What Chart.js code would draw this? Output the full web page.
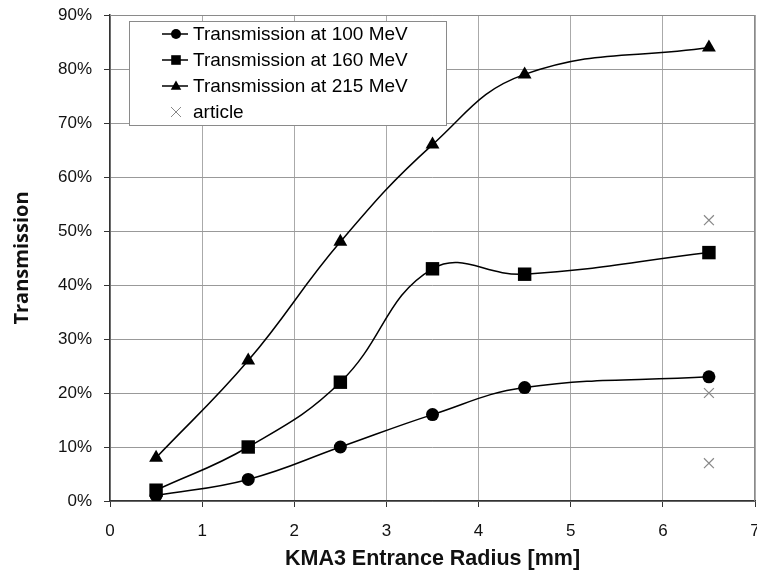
<!DOCTYPE html>
<html>
<head>
<meta charset="utf-8">
<script src="https://cdn.jsdelivr.net/npm/chart.js@4"></script>
<style>
html,body{margin:0;padding:0;background:#fff;}
#wrap{width:757px;height:576px;position:relative;}
</style>
</head>
<body>
<div id="wrap"><canvas id="c" width="757" height="576"></canvas></div>
<script>
// ---- data ----
const radii = [0.5, 1.5, 2.5, 3.5, 4.5, 6.5];
const trans100 = [1, 4, 10, 16, 21, 23];
const trans160 = [2, 10, 22, 43, 42, 46];
const trans215 = [8, 26, 48, 66, 79, 84];
const articleRadii = [6.5, 6.5, 6.5];
const articleValues = [52, 20, 7];
const seriesNames = ['Transmission at 100 MeV', 'Transmission at 160 MeV', 'Transmission at 215 MeV', 'article'];
const xTitle = 'KMA3 Entrance Radius [mm]';
const yTitle = 'Transmission';

const pts = (xs, ys) => xs.map((x, i) => ({x: x, y: ys[i]}));

function drawMarker(ctx, style, x, y, r, color, lw) {
  ctx.save();
  ctx.fillStyle = color; ctx.strokeStyle = color; ctx.lineWidth = lw || 1;
  ctx.beginPath();
  if (style === 'circle') { ctx.arc(x, y, r, 0, Math.PI * 2); ctx.fill(); }
  else if (style === 'rect') { ctx.rect(x - r, y - r, 2 * r, 2 * r); ctx.fill(); }
  else if (style === 'triangle') {
    ctx.moveTo(x, y - r * 1.1); ctx.lineTo(x + r * 1.05, y + r * 0.75); ctx.lineTo(x - r * 1.05, y + r * 0.75); ctx.closePath(); ctx.fill();
  } else if (style === 'crossRot') {
    ctx.moveTo(x - r, y - r); ctx.lineTo(x + r, y + r); ctx.moveTo(x + r, y - r); ctx.lineTo(x - r, y + r); ctx.stroke();
  }
  ctx.restore();
}

const frame = {
  id: 'frame',
  beforeDatasetsDraw(chart) {
    const {ctx, chartArea: a} = chart;
    ctx.save();
    ctx.strokeStyle = '#8a8a8a'; ctx.lineWidth = 1;
    ctx.beginPath();
    ctx.moveTo(a.left, a.top + 0.5); ctx.lineTo(a.right - 0.5, a.top + 0.5); ctx.lineTo(a.right - 0.5, a.bottom);
    ctx.stroke();
    ctx.restore();
  }
};

const legendBox = {
  id: 'legendBox',
  afterDraw(chart) {
    const ctx = chart.ctx;
    const L = 129, T = 21, R = 446, B = 125;
    ctx.save();
    ctx.fillStyle = '#fff';
    ctx.fillRect(L, T, R - L, B - T);
    ctx.strokeStyle = '#8a8a8a'; ctx.lineWidth = 1;
    ctx.strokeRect(L + 0.5, T + 0.5, R - L, B - T);
    const rows = [34, 60, 86, 112];
    const styles = ['circle', 'rect', 'triangle', 'crossRot'];
    ctx.font = '19px "Liberation Sans", Arial, sans-serif';
    ctx.textBaseline = 'middle';
    chart.data.datasets.forEach((ds, i) => {
      const y = rows[i];
      if (i < 3) {
        ctx.strokeStyle = '#000'; ctx.lineWidth = 1.5;
        ctx.beginPath(); ctx.moveTo(162, y); ctx.lineTo(188, y); ctx.stroke();
        drawMarker(ctx, styles[i], 176, y, i === 1 ? 4.8 : 5, '#000');
      } else {
        drawMarker(ctx, 'crossRot', 176, y, 5, '#888', 1);
      }
      ctx.fillStyle = '#000';
      ctx.fillText(ds.label, 193, y + 1);
    });
    ctx.restore();
  }
};

const lineDs = (label, ys, style, radius) => ({
  label: label,
  data: pts(radii, ys),
  showLine: true,
  borderColor: '#000',
  backgroundColor: '#000',
  borderWidth: 1.5,
  tension: 0.42,
  pointStyle: style,
  pointRadius: radius,
  pointBorderWidth: 0,
  pointBackgroundColor: '#000'
});

new Chart(document.getElementById('c'), {
  type: 'scatter',
  data: {
    datasets: [
      lineDs(seriesNames[0], trans100, 'circle', 6.5),
      lineDs(seriesNames[1], trans160, 'rect', 9.5),
      lineDs(seriesNames[2], trans215, 'triangle', 8),
      {
        label: seriesNames[3],
        data: pts(articleRadii, articleValues),
        showLine: false,
        pointStyle: 'crossRot',
        pointRadius: 7,
        borderColor: '#888',
        backgroundColor: '#888',
        pointBorderWidth: 1.2
      }
    ]
  },
  options: {
    responsive: false,
    animation: false,
    events: [],
    layout: {autoPadding: false, padding: {top: 15, right: 2, left: 0, bottom: 0}},
    plugins: {legend: {display: false}, tooltip: {enabled: false}},
    scales: {
      x: {
        type: 'linear', min: 0, max: 7,
        afterFit(s) { s.height = 75; s.paddingRight = 0; s.paddingLeft = 0; },
        ticks: {stepSize: 1, color: '#111', padding: 14, font: {family: '"Liberation Sans", Arial, sans-serif', size: 17}},
        grid: {color: '#aaa', borderDash: [3, 2], lineWidth: 1, tickLength: 6, tickColor: '#333', tickBorderDash: []},
        border: {display: true, color: '#333', width: 1.5},
        title: {display: true, text: xTitle, color: '#111', padding: {top: 0, bottom: 4},
          font: {family: '"Liberation Sans", Arial, sans-serif', size: 21.5, weight: 'bold'}}
      },
      y: {
        type: 'linear', min: 0, max: 90,
        afterFit(s) { s.width = 110; s.paddingTop = 0; s.paddingBottom = 0; },
        ticks: {stepSize: 10, color: '#111', padding: 12, callback: v => v + '%',
          font: {family: '"Liberation Sans", Arial, sans-serif', size: 17}},
        grid: {color: '#999', borderDash: [3, 2], lineWidth: 1, tickLength: 6, tickColor: '#333', tickBorderDash: []},
        border: {display: true, color: '#333', width: 1.5},
        title: {display: true, text: yTitle, color: '#111', padding: {top: 10, bottom: 0},
          font: {family: '"Open Sans", "Liberation Sans", sans-serif', size: 20, weight: 'bold'}}
      }
    }
  },
  plugins: [frame, legendBox]
});
</script>
</body>
</html>
